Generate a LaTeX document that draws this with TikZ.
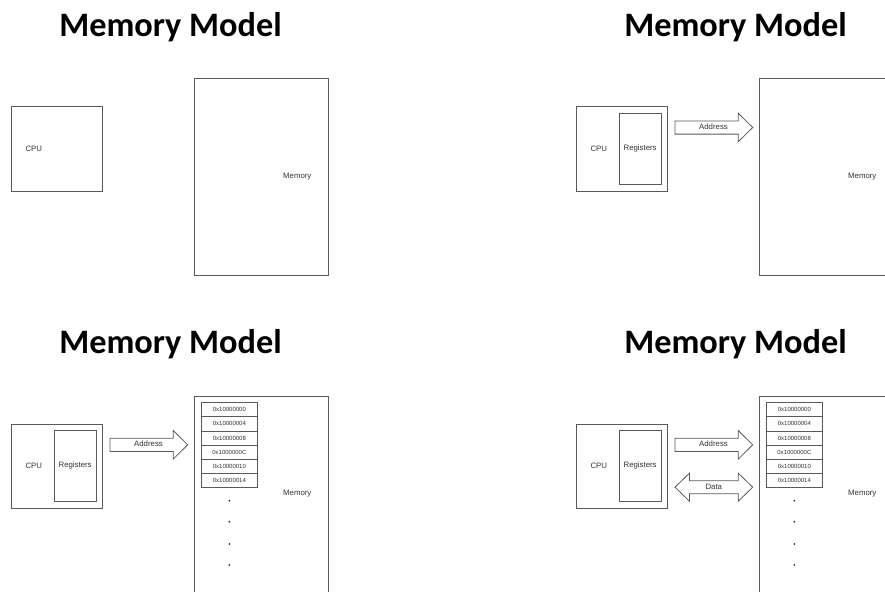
\documentclass[tikz,border=0pt]{standalone}
\usepackage{fontspec}
\setmainfont{Liberation Sans}
\newfontfamily\titlefont{Carlito}
\definecolor{boxgray}{HTML}{5A5A5A}
\definecolor{txtgray}{HTML}{333333}
\tikzset{
  box/.style={draw=boxgray, line width=0.9pt, inner sep=0pt},
  lbl/.style={text=txtgray, font=\fontsize{7.8}{9}\selectfont, inner sep=0pt},
  cell/.style={draw=boxgray, line width=0.8pt, minimum width=56.7pt, minimum height=14.1pt,
    inner sep=0pt, font=\fontsize{6}{7}\selectfont, text=txtgray},
  ttl/.style={font=\titlefont\bfseries\fontsize{34.3}{38}\selectfont, inner sep=0pt, anchor=base},
  barrow/.style={draw=boxgray, line width=0.8pt, fill=white, line join=miter},
  memdot/.style={fill=txtgray, circle, inner sep=0pt, minimum size=2pt}
}
\newcommand{\mmbase}[1]{%
  \node[ttl] (#1title) at (170.5,36.5) {Memory Model};
  \node[box, minimum width=91pt, minimum height=84.3pt] (#1cpu) at (57.2,148.85) {};
  \node[lbl] (#1cpulbl) at (33.8,148.5) {CPU};
  \node[box, minimum width=134pt, minimum height=196.3pt] (#1mem) at (261.3,176.85) {};
  \node[lbl] (#1memlbl) at (297.3,176.5) {Memory};
}
\newcommand{\mmregs}[1]{%
  \node[box, minimum width=42.3pt, minimum height=70.7pt] (#1reg) at (75.15,148.65) {};
  \node[lbl] (#1reglbl) at (#1reg.center) {Registers};
  \draw[barrow] (110,120.9) -- (173.3,120.9) -- (173.3,113.3) -- (187.7,127.5)
     -- (173.3,141.7) -- (173.3,134.1) -- (110,134.1) -- cycle;
  \node[lbl] (#1addr) at (148.5,126.8) {Address};
}
\newcommand{\mmcells}[1]{%
  \foreach \t [count=\i from 0] in {0x10000000,0x10000004,0x10000008,0x1000000C,0x10000010,0x10000014}{
    \node[cell] (#1cell\i) at (229.35,92.45+14.1*\i) {\t};
  }
  \foreach \yy [count=\j] in {183.4,204.4,226.7,247.7}{
    \node[memdot] (#1dot\j) at (229.3,\yy) {};
  }
}
\begin{document}
\begin{tikzpicture}[x=1pt,y=-1pt]
\useasboundingbox (0,0) rectangle (885,591);
\clip (0,0) rectangle (885,591);
\fill[white] (0,0) rectangle (885,591);
% panel 1
\begin{scope}
  \mmbase{a}
\end{scope}
% panel 2
\begin{scope}[shift={(565,0)}]
  \mmbase{b}
  \mmregs{b}
\end{scope}
% panel 3
\begin{scope}[shift={(0,317.3)}]
  \mmbase{c}
  \mmregs{c}
  \mmcells{c}
\end{scope}
% panel 4
\begin{scope}[shift={(565,317.3)}]
  \mmbase{d}
  \mmregs{d}
  \mmcells{d}
  \draw[barrow] (110,169.9) -- (124.4,155.9) -- (124.4,163.4) -- (173.3,163.4) -- (173.3,155.9)
     -- (187.7,169.9) -- (173.3,183.9) -- (173.3,176.4) -- (124.4,176.4) -- (124.4,183.9) -- cycle;
  \node[lbl] (ddata) at (148.8,169.4) {Data};
\end{scope}
\end{tikzpicture}
\end{document}
